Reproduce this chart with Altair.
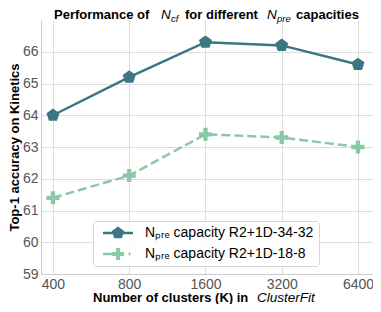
import math
import altair as alt
import pandas as pd

# ---- data ----
clusters = [400, 800, 1600, 3200, 6400]
series_names = ["Nₚᵣₑ capacity R2+1D-34-32", "Nₚᵣₑ capacity R2+1D-18-8"]
acc_34_32 = [64.0, 65.2, 66.3, 66.2, 65.6]
acc_18_8 = [61.4, 62.1, 63.4, 63.3, 63.0]
y_ticks = [59, 60, 61, 62, 63, 64, 65, 66]

rows = []
for k, a in zip(clusters, acc_34_32):
    rows.append({"K": k, "acc": a, "series": series_names[0]})
for k, a in zip(clusters, acc_18_8):
    rows.append({"K": k, "acc": a, "series": series_names[1]})
df = pd.DataFrame(rows)

# ---- styling ----
C1 = "#3b7682"
C2 = "#8ac9a6"
FONT = "Liberation Sans"
W, H = 332, 254
LEFT, TOP = 33, 12  # plot origin on the page = 8 + padding


def pentagon(r, cx=0.0):
    pts = []
    for i in range(5):
        ang = math.radians(-90 + 72 * i)
        pts.append((cx + r * math.cos(ang), r * math.sin(ang)))
    return "M" + " L".join(f"{x:.3f},{y:.3f}" for x, y in pts) + " Z"


def plus(r):
    a = r / 3.0
    pts = [(-a, -r), (a, -r), (a, -a), (r, -a), (r, a), (a, a), (a, r), (-a, r),
           (-a, a), (-r, a), (-r, -a), (-a, -a)]
    return "M" + " L".join(f"{x:.3f},{y:.3f}" for x, y in pts) + " Z"


def rect(x0, x1, t):
    return f"M{x0:.3f},{-t:.3f} L{x1:.3f},{-t:.3f} L{x1:.3f},{t:.3f} L{x0:.3f},{t:.3f} Z"


PENT = pentagon(1.0)
PLUS = plus(1.0)

# legend symbols: size 196 -> 1 unit = 7 px; the drawn path is wider than the layout box
U = 7.0
t = 1.25 / U
LEG1 = rect(-15 / U, -4 / U, t) + " " + rect(4 / U, 15 / U, t) + " " + pentagon(6.5 / U)
LEG2 = rect(-15 / U, -5.5 / U, t) + " " + plus(6.0 / U) + " " + rect(10.5 / U, 12.5 / U, t)

xscale = alt.Scale(type="log", base=2, domain=[400 / 2 ** 0.157, 6400 * 2 ** 0.197], nice=False)
yscale = alt.Scale(domain=[59, 67], nice=False, zero=False)

xaxis = alt.Axis(values=clusters, format="d", title=None, ticks=False, labelFont=FONT,
                 labelFontSize=14, labelColor="#555555", labelPadding=3, grid=True,
                 gridColor="#dddddd", domainColor="#cccccc", labelFlush=False)
yaxis = alt.Axis(values=y_ticks, title="Top-1 accuracy on Kinetics", ticks=False,
                 labelFont=FONT, labelFontSize=14, labelColor="#555555", labelPadding=3,
                 titleFont=FONT, titleFontSize=13, titleFontWeight="bold", titleColor="black",
                 titleX=-20, titleY=H / 2, titleAngle=270, titleBaseline="bottom",
                 grid=True, gridColor="#dddddd", domainColor="#cccccc")

base = alt.Chart(df)
X = alt.X("K:Q", scale=xscale, axis=xaxis)
Y = alt.Y("acc:Q", scale=yscale, axis=yaxis)

s1 = base.transform_filter(alt.datum.series == series_names[0])
s2 = base.transform_filter(alt.datum.series == series_names[1])

line1 = s1.mark_line(color=C1, strokeWidth=2.5).encode(x=X, y=Y)
line2 = s2.mark_line(color=C2, strokeWidth=2.5, strokeDash=[9, 4]).encode(x=X, y=Y)
pts1 = s1.mark_point(shape=PENT, filled=True, size=185, color=C1, opacity=1).encode(x=X, y=Y)
pts2 = s2.mark_point(shape=PLUS, filled=True, size=170, color=C2, opacity=1).encode(x=X, y=Y)

leg = alt.Legend(orient="none", legendX=93 - 8 - LEFT, legendY=221 - 8 - TOP, title=None,
                 symbolSize=196, symbolStrokeWidth=0, symbolOpacity=1, symbolOffset=13,
                 labelFont=FONT, labelFontSize=14, labelColor="black",
                 padding=5, rowPadding=7, labelOffset=20,
                 fillColor="rgba(255,255,255,0.85)", strokeColor="#d4d4d4", cornerRadius=3,
                 labelLimit=400)
legend_layer = base.transform_filter("false").mark_point(filled=True, size=196, opacity=1).encode(
    x=X, y=Y,
    color=alt.Color("series:N", scale=alt.Scale(domain=series_names, range=[C1, C2]), legend=leg),
    shape=alt.Shape("series:N", scale=alt.Scale(domain=series_names, range=[LEG1, LEG2]), legend=leg),
)


def piece(txt, x, y, size=13, weight="bold", style="normal"):
    # x, y are page pixel positions of the text's left end / baseline
    return alt.Chart(alt.Data(values=[{}])).mark_text(
        text=txt, align="left", baseline="alphabetic", font=FONT, fontSize=size,
        fontWeight=weight, fontStyle=style, color="black"
    ).encode(x=alt.value(x - 8 - LEFT), y=alt.value(y - 8 - TOP))


TY = 19
SY = 22
title_pieces = [
    piece("Performance of", 54, TY),
    piece("N", 161, TY, 13.5, "normal", "italic"),
    piece("cf", 171, SY, 9.5, "normal", "italic"),
    piece("for different", 185, TY),
    piece("N", 267, TY, 13.5, "normal", "italic"),
    piece("pre", 277, SY, 9.5, "normal", "italic"),
    piece("capacities", 296, TY),
]
xtitle_pieces = [
    piece("Number of clusters (K) in", 93, 302),
    piece("ClusterFit", 257, 302, 13.5, "normal", "italic"),
]

chart = alt.layer(line1, line2, pts1, pts2, legend_layer, *title_pieces, *xtitle_pieces).properties(
    width=W, height=H,
    padding={"left": LEFT, "top": TOP, "right": 0, "bottom": 30},
    autosize=alt.AutoSizeParams(type="none"),
).configure_view(stroke=None)

chart.save("out.html", embed_options={"renderer": "svg", "actions": False})
